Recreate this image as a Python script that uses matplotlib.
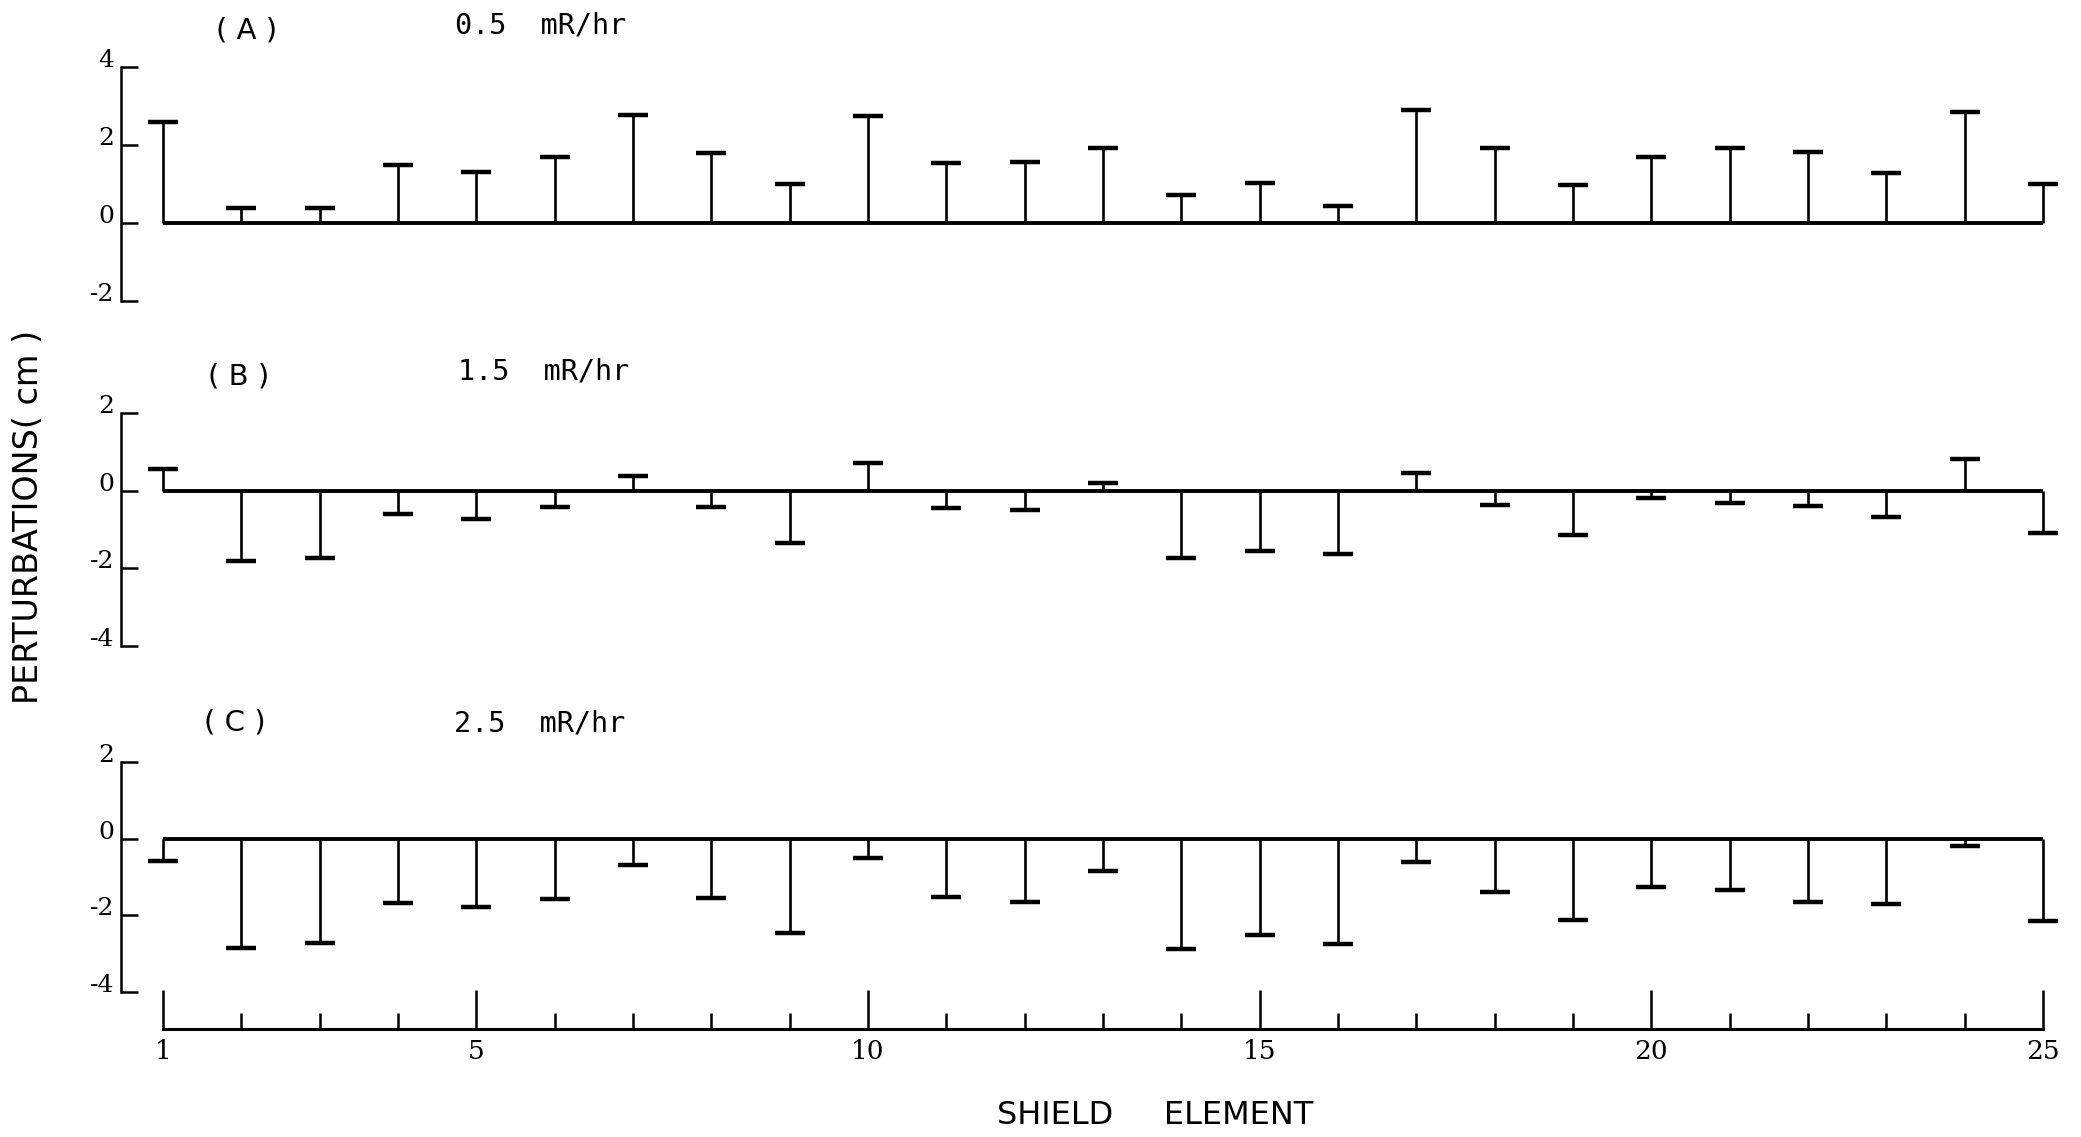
import matplotlib
matplotlib.use("Agg")
import matplotlib.pyplot as plt
import numpy as np

# ---------------- data ----------------
elements = list(range(1, 26))
pert_a = [2.58, 0.39, 0.39, 1.50, 1.31, 1.70, 2.77, 1.80, 0.99, 2.75, 1.55, 1.57, 1.92,
          0.72, 1.03, 0.43, 2.90, 1.93, 0.98, 1.70, 1.92, 1.83, 1.28, 2.85, 1.00]
pert_b = [0.57, -1.82, -1.74, -0.60, -0.73, -0.41, 0.38, -0.42, -1.36, 0.70, -0.45, -0.50, 0.19,
          -1.73, -1.55, -1.63, 0.45, -0.37, -1.13, -0.20, -0.33, -0.39, -0.67, 0.82, -1.10]
pert_c = [-0.58, -2.84, -2.73, -1.69, -1.77, -1.58, -0.69, -1.54, -2.45, -0.50, -1.52, -1.65, -0.84,
          -2.88, -2.52, -2.75, -0.62, -1.38, -2.12, -1.25, -1.35, -1.65, -1.70, -0.20, -2.15]
panel_labels = ["( A )", "( B )", "( C )"]
dose_rates = ["0.5  mR/hr", "1.5  mR/hr", "2.5  mR/hr"]
y_limits = [(-2, 4), (-4, 2), (-4, 2)]
y_ticks = [[-2, 0, 2, 4], [-4, -2, 0, 2], [-4, -2, 0, 2]]
x_major_ticks = [1, 5, 10, 15, 20, 25]
y_label = "PERTURBATIONS( cm )"
x_label = "SHIELD     ELEMENT"

# ---------------- layout ----------------
plt.rcParams["axes.unicode_minus"] = False
W, H = 2081, 1137
fig = plt.figure(figsize=(W / 100, H / 100), dpi=100)
fig.patch.set_facecolor("white")

def fx(px):
    return px / W

def fy(py):
    return 1 - py / H

left_px, right_px = 121, 2074
x1_px, x25_px = 163, 2043
ppe = (x25_px - x1_px) / 24.0
xlim = (1 + (left_px - x1_px) / ppe, 1 + (right_px - x1_px) / ppe)

panel_px = [(67, 301), (413, 646), (762, 992)]
label_pos = [(216, 30), (208, 376), (204, 723)]
dose_pos = [(455, 25), (458, 372), (454, 723)]

series = [pert_a, pert_b, pert_c]
x = np.array(elements, dtype=float)
cap_half = 0.19
ytick_size = 18
xtick_size = 19

for i, (vals, (top, bot)) in enumerate(zip(series, panel_px)):
    ax = fig.add_axes([fx(left_px), fy(bot), fx(right_px) - fx(left_px), (bot - top) / H])
    ax.set_xlim(*xlim)
    ax.set_ylim(*y_limits[i])
    v = np.array(vals)
    ax.hlines(0, elements[0], elements[-1], color="black", lw=2.8, capstyle="butt")
    ax.vlines(x, 0, v, color="black", lw=1.9)
    ax.hlines(v, x - cap_half, x + cap_half, color="black", lw=3.2)
    for s in ["top", "right", "bottom"]:
        ax.spines[s].set_visible(False)
    ax.spines["left"].set_linewidth(1.8)
    ax.spines["left"].set_bounds(*y_limits[i])
    ax.set_xticks([])
    ax.set_yticks(y_ticks[i])
    ax.set_yticklabels([str(t) for t in y_ticks[i]])
    ax.tick_params(axis="y", direction="in", length=12, width=1.8, pad=5,
                   labelsize=ytick_size)
    for lab in ax.get_yticklabels():
        lab.set_verticalalignment("baseline")
        lab.set_fontsize(ytick_size)
        lab.set_family("DejaVu Serif")
    ax.patch.set_alpha(0)
    fig.text(fx(label_pos[i][0]), fy(label_pos[i][1]), panel_labels[i],
             fontsize=21, va="center", ha="left", family="DejaVu Sans")
    fig.text(fx(dose_pos[i][0]), fy(dose_pos[i][1]), dose_rates[i],
             fontsize=20.5, va="center", ha="left", family="DejaVu Sans Mono")

# bottom element axis
axx = fig.add_axes([fx(left_px), fy(1029), fx(right_px) - fx(left_px), 50 / H])
axx.set_xlim(*xlim)
axx.set_ylim(0, 1)
for s in ["top", "right", "left"]:
    axx.spines[s].set_visible(False)
axx.spines["bottom"].set_linewidth(2.2)
axx.spines["bottom"].set_bounds(elements[0], elements[-1])
axx.set_yticks([])
axx.set_xticks(x_major_ticks)
axx.set_xticklabels([str(t) for t in x_major_ticks])
axx.set_xticks([e for e in elements if e not in x_major_ticks], minor=True)
axx.tick_params(axis="x", which="major", direction="in", length=28, width=1.8, pad=7,
                labelsize=xtick_size)
axx.tick_params(axis="x", which="minor", direction="in", length=11.5, width=1.8)
for lab in axx.get_xticklabels():
    lab.set_fontsize(xtick_size)
    lab.set_family("DejaVu Serif")
axx.patch.set_alpha(0)

fig.text(fx(1155), fy(1116), x_label, fontsize=23, ha="center", va="center",
         family="DejaVu Sans")
fig.text(fx(29), fy(517), y_label, fontsize=24, ha="center", va="center",
         rotation=90, family="DejaVu Sans")

fig.savefig("out.png", dpi=100, facecolor="white")
